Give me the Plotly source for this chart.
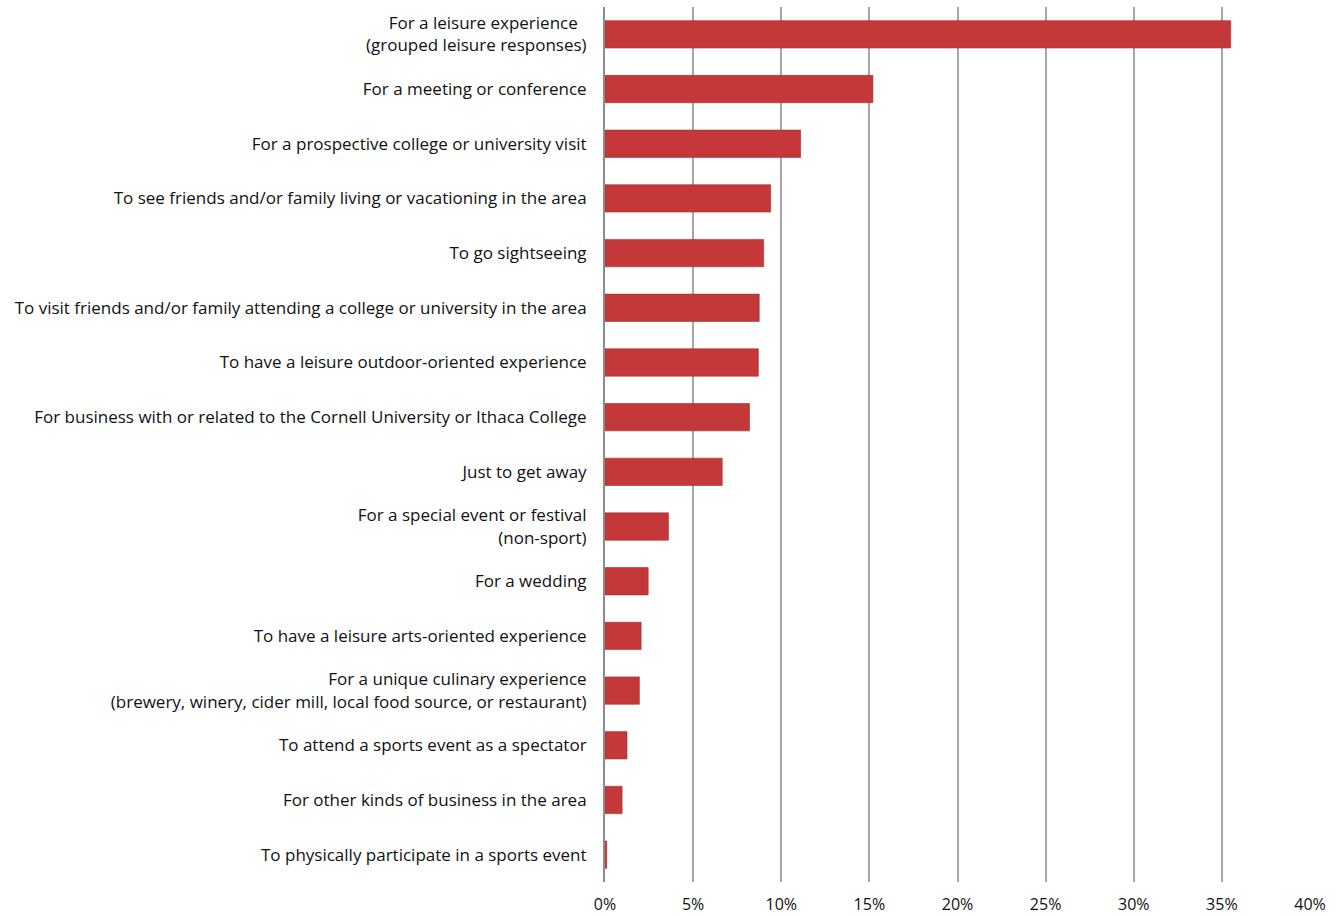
import plotly.graph_objects as go

categories = [
    "For a leisure experience  <br>(grouped leisure responses)",
    "For a meeting or conference",
    "For a prospective college or university visit",
    "To see friends and/or family living or vacationing in the area",
    "To go sightseeing",
    "To visit friends and/or family attending a college or university in the area",
    "To have a leisure outdoor-oriented experience",
    "For business with or related to the Cornell University or Ithaca College",
    "Just to get away",
    "For a special event or festival<br>(non-sport)",
    "For a wedding",
    "To have a leisure arts-oriented experience",
    "For a unique culinary experience<br>(brewery, winery, cider mill, local food source, or restaurant)",
    "To attend a sports event as a spectator",
    "For other kinds of business in the area",
    "To physically participate in a sports event",
]
values = [0.355, 0.152, 0.111, 0.094, 0.090, 0.0875, 0.087, 0.082, 0.0665, 0.036, 0.0245, 0.0205, 0.0195, 0.0125, 0.0097, 0.001]
tick_vals = [0, 0.05, 0.10, 0.15, 0.20, 0.25, 0.30, 0.35, 0.40]
tick_text = ["0%", "5%", "10%", "15%", "20%", "25%", "30%", "35%", "40%"]

fig = go.Figure(go.Bar(
    x=values,
    y=categories,
    orientation="h",
    width=0.5,
    marker=dict(color="#C53839", line=dict(color="#A52B2C", width=0.6)),
))

fig.update_layout(
    width=1338, height=916,
    margin=dict(l=605, r=28, t=7, b=34),
    paper_bgcolor="white", plot_bgcolor="white",
    font=dict(family="Open Sans, Lato, sans-serif", size=17, color="#111111"),
    showlegend=False,
    bargap=0.5,
)
fig.update_xaxes(
    range=[0, 0.40], tickvals=tick_vals, ticktext=tick_text,
    showgrid=True, gridcolor="#A6A6A6", gridwidth=1.5,
    zeroline=False, showline=False, automargin=False,
    ticks="outside", ticklen=0, ticklabelstandoff=8,
    tickfont=dict(size=16),
)
fig.update_yaxes(
    autorange="reversed", categoryorder="array", categoryarray=categories,
    showgrid=False, zeroline=False, automargin=False,
    showline=True, linecolor="#8C8C8C", linewidth=2,
    ticks="outside", ticklen=0, ticklabelstandoff=13,
    tickfont=dict(size=17),
)

fig.write_html(
    "out.html",
    config={"displayModeBar": False},
    post_script="document.body.style.margin='0';document.body.style.overflow='hidden';",
)
